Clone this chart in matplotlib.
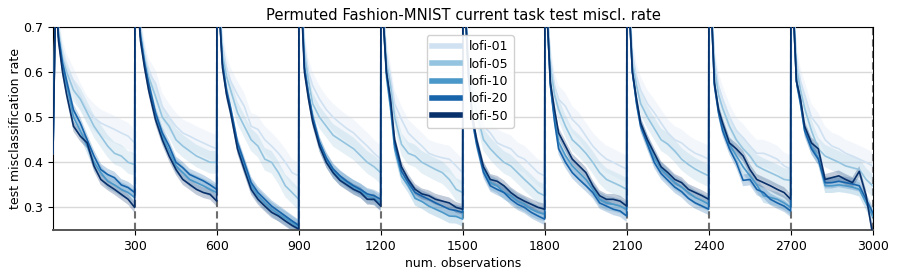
import numpy as np
import matplotlib
matplotlib.use("Agg")
import matplotlib.pyplot as plt
from matplotlib.lines import Line2D

# observation offsets within each task of 300 observations
offsets = [0, 10, 20, 35, 50, 75, 100, 125, 150, 175, 200, 225, 250, 275, 299]
n_tasks = 10
task_len = 300

labels = ["lofi-01", "lofi-05", "lofi-10", "lofi-20", "lofi-50"]

# one row per task, values at the offsets above
lofi01 = [
    [0.42, 0.80, 0.70, 0.64, 0.61, 0.58, 0.546, 0.517, 0.50, 0.487, 0.48, 0.473, 0.465, 0.458, 0.443],
    [0.95, 0.78, 0.70, 0.64, 0.60, 0.575, 0.524, 0.50, 0.48, 0.465, 0.458, 0.45, 0.443, 0.436, 0.43],
    [0.95, 0.75, 0.66, 0.61, 0.58, 0.55, 0.524, 0.48, 0.473, 0.45, 0.436, 0.42, 0.40, 0.377, 0.37],
    [0.95, 0.77, 0.66, 0.60, 0.57, 0.54, 0.517, 0.50, 0.487, 0.475, 0.465, 0.45, 0.436, 0.42, 0.407],
    [0.95, 0.73, 0.64, 0.59, 0.53, 0.495, 0.465, 0.45, 0.436, 0.42, 0.414, 0.41, 0.407, 0.392, 0.377],
    [0.95, 0.75, 0.64, 0.58, 0.54, 0.48, 0.465, 0.443, 0.436, 0.43, 0.414, 0.407, 0.392, 0.377, 0.37],
    [0.95, 0.73, 0.63, 0.57, 0.54, 0.524, 0.495, 0.48, 0.458, 0.436, 0.42, 0.407, 0.40, 0.392, 0.385],
    [0.95, 0.75, 0.64, 0.59, 0.56, 0.53, 0.51, 0.487, 0.465, 0.45, 0.443, 0.43, 0.42, 0.414, 0.407],
    [0.95, 0.75, 0.63, 0.57, 0.54, 0.50, 0.47, 0.455, 0.436, 0.42, 0.42, 0.414, 0.407, 0.392, 0.385],
    [0.95, 0.75, 0.63, 0.58, 0.55, 0.50, 0.48, 0.45, 0.436, 0.43, 0.42, 0.414, 0.407, 0.40, 0.392],
]
lofi05 = [
    [0.42, 0.80, 0.69, 0.63, 0.60, 0.56, 0.54, 0.51, 0.48, 0.458, 0.436, 0.42, 0.414, 0.40, 0.395],
    [0.95, 0.78, 0.69, 0.63, 0.59, 0.546, 0.50, 0.48, 0.45, 0.436, 0.425, 0.414, 0.407, 0.40, 0.40],
    [0.95, 0.74, 0.64, 0.59, 0.56, 0.51, 0.48, 0.45, 0.436, 0.407, 0.40, 0.377, 0.348, 0.333, 0.318],
    [0.95, 0.76, 0.64, 0.58, 0.53, 0.50, 0.48, 0.46, 0.45, 0.44, 0.43, 0.415, 0.40, 0.39, 0.377],
    [0.95, 0.72, 0.62, 0.57, 0.50, 0.44, 0.42, 0.414, 0.40, 0.392, 0.384, 0.377, 0.362, 0.34, 0.333],
    [0.95, 0.74, 0.62, 0.55, 0.51, 0.45, 0.43, 0.414, 0.40, 0.392, 0.377, 0.362, 0.348, 0.333, 0.326],
    [0.95, 0.72, 0.61, 0.55, 0.517, 0.48, 0.45, 0.436, 0.42, 0.40, 0.377, 0.362, 0.355, 0.348, 0.34],
    [0.95, 0.74, 0.62, 0.57, 0.53, 0.50, 0.475, 0.45, 0.44, 0.425, 0.407, 0.395, 0.385, 0.377, 0.37],
    [0.95, 0.74, 0.61, 0.55, 0.52, 0.48, 0.45, 0.43, 0.414, 0.392, 0.384, 0.377, 0.37, 0.362, 0.36],
    [0.95, 0.74, 0.61, 0.56, 0.52, 0.47, 0.43, 0.414, 0.407, 0.40, 0.392, 0.388, 0.384, 0.362, 0.348],
]
lofi10 = [
    [0.42, 0.79, 0.68, 0.61, 0.57, 0.50, 0.47, 0.436, 0.40, 0.377, 0.358, 0.350, 0.340, 0.333, 0.322],
    [0.95, 0.77, 0.68, 0.62, 0.57, 0.505, 0.458, 0.425, 0.392, 0.377, 0.362, 0.355, 0.348, 0.34, 0.333],
    [0.95, 0.72, 0.62, 0.555, 0.515, 0.437, 0.392, 0.348, 0.326, 0.31, 0.296, 0.285, 0.276, 0.265, 0.255],
    [0.95, 0.75, 0.61, 0.55, 0.50, 0.44, 0.405, 0.38, 0.365, 0.355, 0.345, 0.337, 0.325, 0.32, 0.31],
    [0.95, 0.70, 0.59, 0.52, 0.43, 0.37, 0.348, 0.32, 0.313, 0.303, 0.296, 0.289, 0.281, 0.28, 0.274],
    [0.95, 0.72, 0.59, 0.50, 0.445, 0.385, 0.355, 0.348, 0.333, 0.326, 0.314, 0.307, 0.296, 0.289, 0.285],
    [0.95, 0.70, 0.57, 0.50, 0.445, 0.415, 0.392, 0.377, 0.362, 0.34, 0.318, 0.31, 0.307, 0.303, 0.296],
    [0.95, 0.72, 0.60, 0.535, 0.485, 0.445, 0.41, 0.385, 0.37, 0.355, 0.345, 0.333, 0.322, 0.315, 0.307],
    [0.95, 0.72, 0.575, 0.515, 0.48, 0.44, 0.415, 0.39, 0.37, 0.35, 0.326, 0.322, 0.318, 0.31, 0.30],
    [0.95, 0.72, 0.58, 0.535, 0.475, 0.435, 0.41, 0.348, 0.348, 0.35, 0.348, 0.345, 0.34, 0.31, 0.28],
]
lofi20 = [
    [0.42, 0.79, 0.68, 0.62, 0.58, 0.516, 0.487, 0.450, 0.414, 0.384, 0.373, 0.366, 0.350, 0.344, 0.333],
    [0.95, 0.77, 0.68, 0.62, 0.575, 0.51, 0.465, 0.436, 0.40, 0.388, 0.373, 0.366, 0.359, 0.35, 0.34],
    [0.95, 0.72, 0.62, 0.56, 0.52, 0.444, 0.40, 0.355, 0.333, 0.318, 0.303, 0.292, 0.281, 0.27, 0.26],
    [0.95, 0.75, 0.61, 0.55, 0.50, 0.445, 0.41, 0.385, 0.37, 0.358, 0.348, 0.34, 0.33, 0.326, 0.318],
    [0.95, 0.70, 0.60, 0.53, 0.44, 0.38, 0.355, 0.333, 0.325, 0.318, 0.31, 0.303, 0.296, 0.293, 0.289],
    [0.95, 0.72, 0.59, 0.49, 0.44, 0.378, 0.348, 0.34, 0.333, 0.318, 0.307, 0.30, 0.289, 0.281, 0.274],
    [0.95, 0.70, 0.57, 0.49, 0.43, 0.40, 0.377, 0.362, 0.348, 0.333, 0.31, 0.303, 0.296, 0.292, 0.281],
    [0.95, 0.72, 0.60, 0.53, 0.48, 0.44, 0.40, 0.375, 0.36, 0.345, 0.335, 0.32, 0.31, 0.303, 0.296],
    [0.95, 0.72, 0.57, 0.51, 0.47, 0.43, 0.40, 0.36, 0.362, 0.34, 0.333, 0.318, 0.31, 0.303, 0.292],
    [0.95, 0.72, 0.58, 0.53, 0.47, 0.43, 0.407, 0.355, 0.355, 0.358, 0.355, 0.352, 0.348, 0.318, 0.289],
]
lofi50 = [
    [0.42, 0.78, 0.67, 0.60, 0.55, 0.48, 0.458, 0.443, 0.392, 0.362, 0.350, 0.340, 0.329, 0.318, 0.300],
    [0.95, 0.76, 0.67, 0.61, 0.56, 0.495, 0.45, 0.414, 0.384, 0.362, 0.351, 0.34, 0.333, 0.329, 0.314],
    [0.95, 0.72, 0.61, 0.55, 0.51, 0.43, 0.384, 0.34, 0.318, 0.303, 0.289, 0.281, 0.27, 0.26, 0.252],
    [0.95, 0.74, 0.60, 0.54, 0.49, 0.436, 0.40, 0.377, 0.36, 0.35, 0.34, 0.333, 0.318, 0.318, 0.303],
    [0.95, 0.70, 0.60, 0.54, 0.45, 0.39, 0.362, 0.34, 0.33, 0.326, 0.318, 0.314, 0.31, 0.30, 0.296],
    [0.95, 0.72, 0.60, 0.50, 0.45, 0.39, 0.362, 0.358, 0.348, 0.333, 0.322, 0.314, 0.307, 0.30, 0.296],
    [0.95, 0.70, 0.576, 0.517, 0.465, 0.436, 0.407, 0.392, 0.377, 0.348, 0.326, 0.318, 0.318, 0.314, 0.303],
    [0.95, 0.72, 0.60, 0.54, 0.487, 0.45, 0.42, 0.39, 0.377, 0.362, 0.355, 0.34, 0.333, 0.326, 0.318],
    [0.95, 0.72, 0.576, 0.517, 0.487, 0.443, 0.43, 0.414, 0.384, 0.362, 0.355, 0.348, 0.34, 0.333, 0.318],
    [0.95, 0.72, 0.58, 0.54, 0.48, 0.443, 0.43, 0.362, 0.366, 0.37, 0.362, 0.355, 0.38, 0.326, 0.24],
]
# half-width of the shaded band for each series
band_halfwidth = [0.03, 0.025, 0.016, 0.013, 0.012]

series = [lofi01, lofi05, lofi10, lofi20, lofi50]
colors = plt.cm.Blues(np.linspace(0.2, 1.0, 5))

fig = plt.figure(figsize=(8.98, 2.77), dpi=100)
ax = fig.add_axes([0.059, 0.1697, 0.9131, 0.7329])

x = np.concatenate([k * task_len + np.array(offsets) for k in range(n_tasks)])

for k in range(1, n_tasks + 1):
    ax.axvline(k * task_len, color="#6e6e6e", ls=(0, (3.5, 2)), lw=1.5, zorder=1)

for vals, col, bw in zip(series, colors, band_halfwidth):
    y = np.concatenate([np.array(v) for v in vals])
    ax.fill_between(x, y - bw, y + bw, color=col, alpha=0.25, lw=0, zorder=2)
    ax.plot(x, y, color=col, lw=1.2, zorder=3)

ax.set_xlim(0, 3000)
ax.set_ylim(0.25, 0.7)
ax.set_xticks(np.arange(300, 3001, 300))
ax.set_yticks([0.3, 0.4, 0.5, 0.6, 0.7])
ax.grid(axis="y", color="#d9d9d9", lw=1, zorder=0)
ax.set_axisbelow(True)
ax.tick_params(labelsize=9)
ax.spines["bottom"].set_color("#555555")
ax.spines["bottom"].set_linewidth(1.4)

ax.set_title("Permuted Fashion-MNIST current task test miscl. rate", fontsize=10.6, pad=5)
ax.set_xlabel("num. observations", fontsize=9, labelpad=3)
ax.set_ylabel("test misclassification rate", fontsize=9, labelpad=1)

handles = [Line2D([0], [0], color=c, lw=4) for c in colors]
ax.legend(handles, labels, loc="upper left", bbox_to_anchor=(0.448, 0.99),
          fontsize=9, handlelength=2.3, handletextpad=0.7, labelspacing=0.35,
          borderpad=0.4, framealpha=0.9)

fig.savefig("out.png", dpi=100)
